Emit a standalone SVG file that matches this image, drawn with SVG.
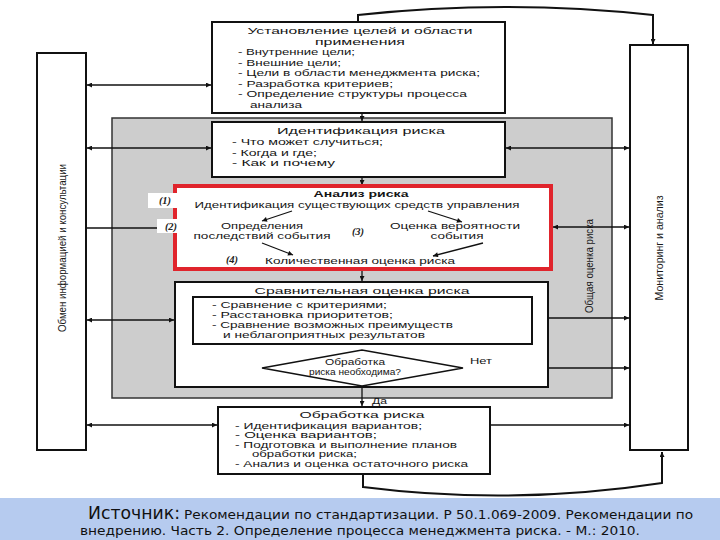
<svg xmlns="http://www.w3.org/2000/svg" width="720" height="540" viewBox="0 0 720 540">
<defs>
<marker id="ah" viewBox="0 0 10 10" refX="10" refY="5" markerWidth="8" markerHeight="5" orient="auto-start-reverse" markerUnits="userSpaceOnUse"><path d="M0,0 L10,5 L0,10 z" fill="#111"/></marker>
<style>
.box{fill:#fff;stroke:#111;stroke-width:2}
.t{font-family:"Liberation Sans",Arial,sans-serif;font-size:8.6px;fill:#151515}
.h{font-family:"Liberation Sans",Arial,sans-serif;font-size:9.8px;fill:#151515}
.m{text-anchor:middle}
.n{font-family:"Liberation Serif",serif;font-style:italic;font-weight:bold;font-size:10.5px;fill:#222}
.c{stroke:#111;stroke-width:1.3;fill:none}
.cb{stroke:#111;stroke-width:2;fill:none}
.a{marker-end:url(#ah)}
.aa{marker-end:url(#ah);marker-start:url(#ah)}
.v{font-family:"Liberation Sans",Arial,sans-serif;font-size:10.5px;fill:#1a1a1a;text-anchor:middle}
.src{font-family:"DejaVu Sans",sans-serif;fill:#111}
</style>
</defs>
<rect width="720" height="540" fill="#fff"/>

<g id="gray-area">
<rect x="112" y="118" width="500" height="280" fill="#cdcdcd" stroke="#333" stroke-width="1.5"/>
<text class="v" transform="translate(593,266) rotate(-90)" textLength="94" lengthAdjust="spacingAndGlyphs">Общая оценка риска</text>
</g>

<g id="communication">
<rect class="box" x="37" y="53" width="49" height="397"/>
<text class="v" transform="translate(66,248) rotate(-90)" textLength="168" lengthAdjust="spacingAndGlyphs">Обмен информацией и консультации</text>
</g>

<g id="monitoring">
<rect class="box" x="630" y="45" width="58" height="405"/>
<text class="v" transform="translate(663,248) rotate(-90)" textLength="105" lengthAdjust="spacingAndGlyphs">Мониторинг и анализ</text>
</g>

<g id="connectors">
<path class="cb a" d="M358,22 V15 Q505,-1 653,15 V44"/>
<path class="cb a" d="M363,474 V487 Q512,506 662,483 V452"/>
<path class="c a" d="M362,113 V121"/>
<path class="c a" d="M362,177 V185"/>
<path class="c a" d="M362,270 V281"/>
<path class="c a" d="M362,344 V349"/>
<path class="c a" d="M362,386 V406"/>
<path class="c aa" d="M87,85 H211"/>
<path class="c aa" d="M87,148 H211"/>
<path class="c" d="M87,228 H158"/>
<path class="c aa" d="M87,320 H174"/>
<path class="c aa" d="M87,425 H217"/>
<path class="c aa" d="M506,148 H629"/>
<path class="c aa" d="M553,227 H629"/>
<path class="c aa" d="M533,318 H629"/>
<path class="c a" d="M463,368 H629"/>
<path class="c a" d="M490,425 H629"/>
</g>

<g id="goals">
<rect class="box" x="212" y="22" width="293" height="91"/>
<text class="h m" x="360" y="34" textLength="225" lengthAdjust="spacingAndGlyphs">Установление целей и области</text>
<text class="h m" x="360" y="44.5" textLength="90" lengthAdjust="spacingAndGlyphs">применения</text>
<text class="t" x="238" y="55" textLength="117" lengthAdjust="spacingAndGlyphs">- Внутренние цели;</text>
<text class="t" x="238" y="65.5" textLength="103" lengthAdjust="spacingAndGlyphs">- Внешние цели;</text>
<text class="t" x="238" y="76" textLength="242" lengthAdjust="spacingAndGlyphs">- Цели в области менеджмента риска;</text>
<text class="t" x="238" y="86.5" textLength="155" lengthAdjust="spacingAndGlyphs">- Разработка критериев;</text>
<text class="t" x="238" y="97" textLength="229" lengthAdjust="spacingAndGlyphs">- Определение структуры процесса</text>
<text class="t" x="250" y="107.5" textLength="52" lengthAdjust="spacingAndGlyphs">анализа</text>
</g>

<g id="identification">
<rect class="box" x="212" y="122" width="293" height="55"/>
<text class="h m" x="361" y="133.5" textLength="168" lengthAdjust="spacingAndGlyphs">Идентификация риска</text>
<text class="t" x="232" y="145" textLength="151" lengthAdjust="spacingAndGlyphs">- Что может случиться;</text>
<text class="t" x="232" y="155.5" textLength="85" lengthAdjust="spacingAndGlyphs">- Когда и где;</text>
<text class="t" x="232" y="166" textLength="103" lengthAdjust="spacingAndGlyphs">- Как и почему</text>
</g>

<g id="analysis">
<rect x="175" y="186" width="376" height="83" fill="#fff" stroke="#e0242c" stroke-width="4"/>
<text class="h m" x="361" y="197" textLength="95" lengthAdjust="spacingAndGlyphs" font-weight="bold">Анализ риска</text>
<text class="t m" x="357" y="208" textLength="325" lengthAdjust="spacingAndGlyphs">Идентификация существующих средств управления</text>
<path class="c a" d="M292,211 L262,221"/>
<path class="c a" d="M428,211 L462,222"/>
<text class="t m" x="262" y="229" textLength="82" lengthAdjust="spacingAndGlyphs">Определения</text>
<text class="t m" x="262" y="239" textLength="137" lengthAdjust="spacingAndGlyphs">последствий события</text>
<text class="t m" x="455" y="229" textLength="130" lengthAdjust="spacingAndGlyphs">Оценка вероятности</text>
<text class="t m" x="457" y="239" textLength="53" lengthAdjust="spacingAndGlyphs">события</text>
<text class="n m" x="358" y="235">(3)</text>
<path class="c a" d="M262,243 L293,255"/>
<path class="c a" d="M483,243 L433,256"/>
<text class="n m" x="232" y="263">(4)</text>
<text class="t m" x="360" y="264" textLength="190" lengthAdjust="spacingAndGlyphs">Количественная оценка риска</text>
<rect x="148" y="193" width="38" height="15" fill="#fff"/>
<text class="n m" x="165" y="204">(1)</text>
<rect x="157" y="219" width="28" height="14" fill="#fff"/>
<text class="n m" x="171" y="230">(2)</text>
</g>

<g id="evaluation">
<rect class="box" x="175" y="282" width="373" height="105"/>
<text class="h m" x="362" y="293.5" textLength="215" lengthAdjust="spacingAndGlyphs">Сравнительная оценка риска</text>
<rect class="box" x="193" y="297" width="339" height="47" stroke-width="1.5"/>
<text class="t" x="212" y="307.5" textLength="175" lengthAdjust="spacingAndGlyphs">- Сравнение с критериями;</text>
<text class="t" x="212" y="317.5" textLength="181" lengthAdjust="spacingAndGlyphs">- Расстановка приоритетов;</text>
<text class="t" x="212" y="327.5" textLength="241" lengthAdjust="spacingAndGlyphs">- Сравнение возможных преимуществ</text>
<text class="t" x="223" y="337.5" textLength="202" lengthAdjust="spacingAndGlyphs">и неблагоприятных результатов</text>
</g>

<g id="decision">
<polygon points="262,368 362,350 463,368 362,386" fill="#fff" stroke="#111" stroke-width="1.5"/>
<text class="t m" x="355" y="365" textLength="60" lengthAdjust="spacingAndGlyphs">Обработка</text>
<text class="t m" x="355" y="375" textLength="92" lengthAdjust="spacingAndGlyphs">риска необходима?</text>
<text class="t" x="470" y="364" textLength="22" lengthAdjust="spacingAndGlyphs">Нет</text>
<text class="t" x="372" y="404" textLength="15" lengthAdjust="spacingAndGlyphs">Да</text>
</g>

<g id="treatment">
<rect class="box" x="218" y="407" width="272" height="67"/>
<text class="h m" x="362" y="418" textLength="125" lengthAdjust="spacingAndGlyphs">Обработка риска</text>
<text class="t" x="235" y="428.5" textLength="187" lengthAdjust="spacingAndGlyphs">- Идентификация вариантов;</text>
<text class="t" x="235" y="438" textLength="142" lengthAdjust="spacingAndGlyphs">- Оценка вариантов;</text>
<text class="t" x="235" y="447.5" textLength="222" lengthAdjust="spacingAndGlyphs">- Подготовка и выполнение планов</text>
<text class="t" x="252" y="457" textLength="105" lengthAdjust="spacingAndGlyphs">обработки риска;</text>
<text class="t" x="235" y="467" textLength="233" lengthAdjust="spacingAndGlyphs">- Анализ и оценка остаточного риска</text>
</g>

<g id="source">
<rect x="0" y="498" width="720" height="42" fill="#b6cbef"/>
<text class="src" x="88" y="519" font-size="17" textLength="92" lengthAdjust="spacingAndGlyphs">Источник:</text>
<text class="src" x="184" y="519" font-size="12.5" textLength="509" lengthAdjust="spacingAndGlyphs">Рекомендации по стандартизации. Р 50.1.069-2009. Рекомендации по</text>
<text class="src" x="80" y="535" font-size="12.5" textLength="560" lengthAdjust="spacingAndGlyphs">внедрению. Часть 2. Определение процесса менеджмента риска. - М.: 2010.</text>
</g>
</svg>
